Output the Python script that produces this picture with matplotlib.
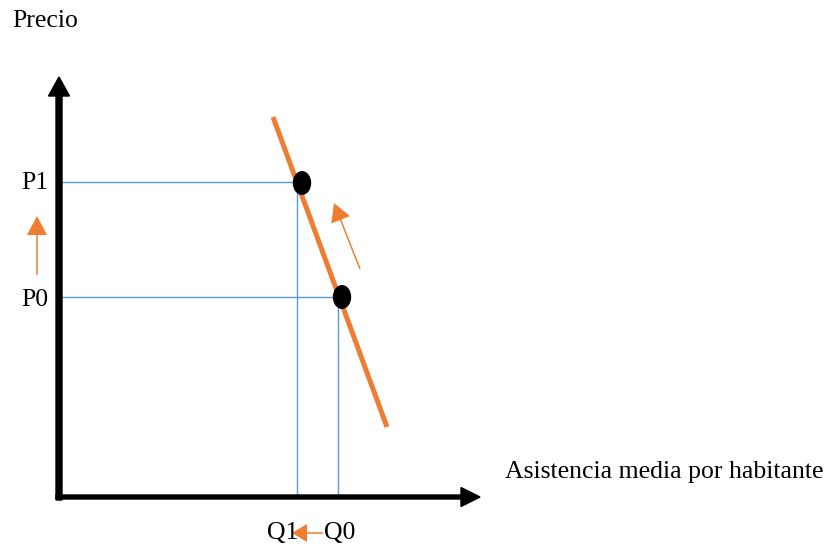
import matplotlib
matplotlib.use("Agg")
import matplotlib.pyplot as plt
from matplotlib.patches import Ellipse

# ---- data (abstract diagram units; origin at the axes corner) ----
price_labels = ["P1", "P0"]
price_values = [31.5, 20.0]
qty_labels = ["Q1", "Q0"]
qty_values = [23.8, 27.9]
# equilibrium points on the demand curve (quantity, price)
point_q = [24.3, 28.3]
point_p = [31.4, 20.0]
# demand curve end points
demand_q = [21.4, 32.8]
demand_p = [38.0, 7.0]
# movement arrow along the demand curve (tail -> tip)
move_q = [30.1, 27.5]
move_p = [22.8, 29.4]
# price rise arrow (tail -> tip) on the price side
price_arrow_p = [22.2, 28.1]
# quantity fall arrow (tail -> tip) under the quantity axis
qty_arrow_q = [26.4, 23.3]

x_axis_label = "Asistencia media por habitante"
y_axis_label = "Precio"

ORANGE = "#ED7D31"
BLUE = "#5B9BD5"

plt.rcParams["font.family"] = ["Liberation Serif", "DejaVu Serif"]

fig = plt.figure(figsize=(8.28, 5.48), dpi=100)
ax = fig.add_axes([0, 0, 1, 1])
ax.set_xlim(-5.9, 76.9)
ax.set_ylim(-5.1, 49.7)
ax.axis("off")

# guide lines
for q, p, pq in zip(qty_values, price_values, point_q):
    ax.plot([0, pq], [p, p], color=BLUE, lw=1.0, zorder=2)
    ax.plot([q, q], [0, p], color=BLUE, lw=1.0, zorder=2)

# demand curve
ax.plot(demand_q, demand_p, color=ORANGE, lw=3.6, solid_capstyle="butt", zorder=3)

# points
for q, p in zip(point_q, point_p):
    ax.add_patch(Ellipse((q, p), 1.7, 2.25, color="black", zorder=4))

# axes arrows
ax.arrow(0, -0.3, 0, 42.3, width=0.6, head_width=2.1, head_length=1.9,
         length_includes_head=True, color="black", zorder=5)
ax.arrow(-0.3, 0, 42.4, 0, width=0.4, head_width=1.9, head_length=1.9,
         length_includes_head=True, color="black", zorder=5)

# movement along the curve
ax.arrow(move_q[0], move_p[0], move_q[1] - move_q[0], move_p[1] - move_p[0],
         width=0.15, head_width=2.0, head_length=1.8, length_includes_head=True,
         color=ORANGE, lw=0, zorder=3)
# price rise arrow
ax.arrow(-2.2, price_arrow_p[0], 0, price_arrow_p[1] - price_arrow_p[0],
         width=0.15, head_width=2.0, head_length=1.9, length_includes_head=True,
         color=ORANGE, lw=0, zorder=3)
# quantity fall arrow
ax.arrow(qty_arrow_q[0], -3.6, qty_arrow_q[1] - qty_arrow_q[0], 0,
         width=0.15, head_width=1.8, head_length=1.5, length_includes_head=True,
         color=ORANGE, lw=0, zorder=3)

fs = 18.5
ax.text(-4.7, 47.0, y_axis_label, fontsize=fs, ha="left", va="baseline")
ax.text(44.6, 1.9, x_axis_label, fontsize=fs, ha="left", va="baseline")
for lab, p in zip(price_labels, price_values):
    ax.text(-1.1, p - 0.9 if lab == "P0" else p - 0.7, lab, fontsize=fs,
            ha="right", va="baseline")
ax.text(20.8, -4.2, qty_labels[0], fontsize=fs, ha="left", va="baseline")
ax.text(26.5, -4.2, qty_labels[1], fontsize=fs, ha="left", va="baseline")

fig.savefig("out.png", dpi=100)
